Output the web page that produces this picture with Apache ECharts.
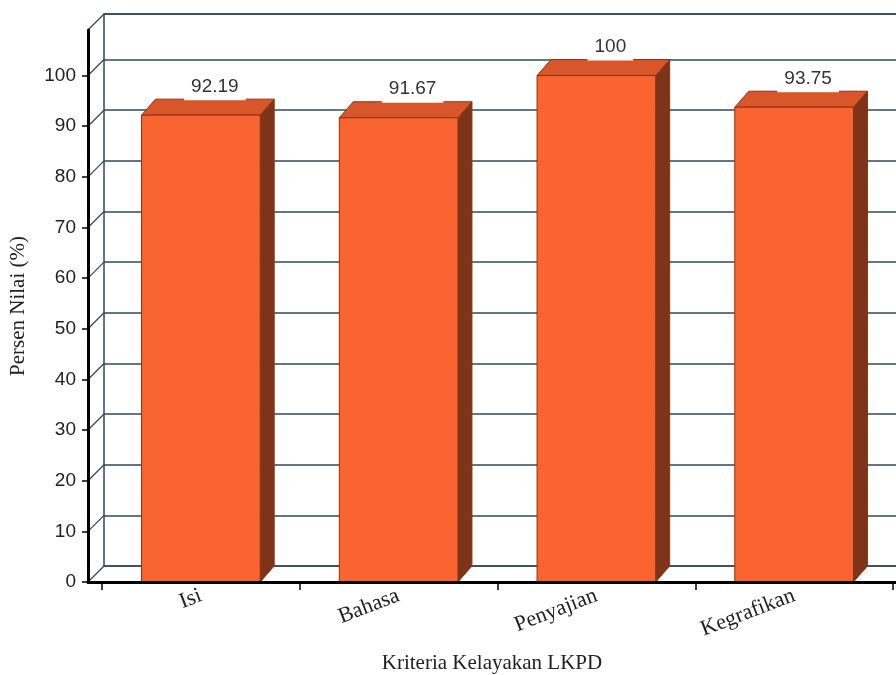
<!DOCTYPE html>
<html>
<head>
<meta charset="utf-8">
<script src="https://cdn.jsdelivr.net/npm/echarts@6/dist/echarts.min.js"></script>
<style>
  html, body { margin: 0; padding: 0; background: #ffffff; }
  #chart { width: 896px; height: 675px; }
</style>
</head>
<body>
<div id="chart"></div>
<script>
// Kelayakan LKPD per kriteria (persen nilai)
const categories = ['Isi', 'Bahasa', 'Penyajian', 'Kegrafikan'];
const values = [92.19, 91.67, 100, 93.75];
const yTicks = [0, 10, 20, 30, 40, 50, 60, 70, 80, 90, 100];
const yMax = 109;

// 3D look: offset of the back wall and depth of the bars (px)
const WALL_DX = 16, WALL_DY = -16;
const BAR_DX = 14, BAR_DY = -16;

const FRONT = '#FA6431';
const TOP = '#D9562A';
const SIDE = '#7E3419';
const EDGE = '#8E3212';
const WALL = '#2E4A5C';

const serif = "'Liberation Serif', 'Times New Roman', serif";
const sans = "'Liberation Sans', Arial, sans-serif";

const chart = echarts.init(document.getElementById('chart'), null, { renderer: 'canvas' });

const hiddenParts = {
  axisTick: { show: false },
  axisLabel: { show: false },
  splitLine: { show: false }
};

const option = {
  backgroundColor: '#ffffff',
  animation: false,
  grid: [
    { left: 88, right: 0, top: 30, bottom: 93, outerBoundsMode: 'none' },   // front frame (axes)
    { left: 102, right: 3, top: 30, bottom: 93, outerBoundsMode: 'none' },  // category bands / bars
    { left: 88 + WALL_DX, right: 0, top: 30 + WALL_DY, bottom: 93 - WALL_DY, outerBoundsMode: 'none' } // back wall
  ],
  xAxis: [
    Object.assign({
      gridIndex: 0, type: 'value', min: 0, max: 1, z: 10,
      axisLine: { show: true, onZero: false, lineStyle: { color: '#000', width: 3 } },
      name: 'Kriteria Kelayakan LKPD', nameLocation: 'middle', nameGap: 71,
      nameTextStyle: { fontFamily: serif, fontSize: 21, color: '#222' }
    }, hiddenParts),
    {
      gridIndex: 1, type: 'category', data: categories, boundaryGap: true, z: 10,
      axisLine: { show: false },
      axisTick: { show: true, length: 8, lineStyle: { color: '#000', width: 1.5 } },
      axisLabel: { rotate: 21, margin: 13, fontFamily: serif, fontSize: 22, color: '#222' },
      splitLine: { show: false }
    },
    Object.assign({
      gridIndex: 2, type: 'value', min: 0, max: 1, position: 'bottom',
      axisLine: { show: true, onZero: false, lineStyle: { color: WALL, width: 1.5 } }
    }, hiddenParts),
    Object.assign({
      gridIndex: 2, type: 'value', min: 0, max: 1, position: 'top',
      axisLine: { show: true, onZero: false, lineStyle: { color: WALL, width: 1.5 } }
    }, hiddenParts)
  ],
  yAxis: [
    {
      gridIndex: 0, type: 'value', min: 0, max: yMax, z: 10,
      axisLine: { show: true, onZero: false, lineStyle: { color: '#000', width: 3 } },
      axisTick: { show: true, customValues: yTicks, length: 6, lineStyle: { color: '#000', width: 1.5 } },
      axisLabel: { customValues: yTicks, margin: 12, fontFamily: sans, fontSize: 19, color: '#222' },
      splitLine: { show: false },
      name: 'Persen Nilai (%)', nameLocation: 'middle', nameGap: 59,
      nameTextStyle: { fontFamily: serif, fontSize: 21, color: '#222' }
    },
    { gridIndex: 1, type: 'value', min: 0, max: yMax, show: false },
    {
      gridIndex: 2, type: 'value', min: 0, max: yMax, interval: 10,
      axisLine: { show: true, onZero: false, lineStyle: { color: WALL, width: 1.5 } },
      axisTick: { show: false },
      axisLabel: { show: false },
      splitLine: { show: true, lineStyle: { color: WALL, width: 1.5 } }
    }
  ],
  series: [
    {
      // diagonal links from the front axis ticks to the back wall
      type: 'custom', xAxisIndex: 0, yAxisIndex: 0, silent: true, clip: false, z: 1,
      data: yTicks.concat([yMax]).map(v => [0, v]),
      renderItem: (params, api) => {
        const p = api.coord([api.value(0), api.value(1)]);
        return {
          type: 'line',
          shape: { x1: p[0], y1: p[1], x2: p[0] + WALL_DX, y2: p[1] + WALL_DY },
          style: { stroke: WALL, lineWidth: 1.3 }
        };
      }
    },
    {
      // 3D bars with value labels
      type: 'custom', xAxisIndex: 1, yAxisIndex: 1, silent: true, clip: false, z: 3,
      data: values.map((v, i) => [i, v]),
      renderItem: (params, api) => {
        const v = api.value(1);
        const top = api.coord([api.value(0), v]);
        const base = api.coord([api.value(0), 0]);
        const w = api.size([1, 0])[0] * 0.6;
        const x0 = top[0] - w / 2, x1 = top[0] + w / 2;
        const yT = top[1], yB = base[1];
        return {
          type: 'group',
          children: [
            {
              type: 'polygon',
              shape: { points: [[x1, yT], [x1 + BAR_DX, yT + BAR_DY], [x1 + BAR_DX, yB + BAR_DY], [x1, yB]] },
              style: { fill: SIDE, stroke: EDGE, lineWidth: 1 }
            },
            {
              type: 'polygon',
              shape: { points: [[x0, yT], [x0 + BAR_DX, yT + BAR_DY], [x1 + BAR_DX, yT + BAR_DY], [x1, yT]] },
              style: { fill: TOP, stroke: EDGE, lineWidth: 1 }
            },
            {
              type: 'rect',
              shape: { x: x0, y: yT, width: w, height: yB - yT },
              style: { fill: FRONT, stroke: EDGE, lineWidth: 1 }
            },
            {
              type: 'text',
              x: top[0] + BAR_DX, y: yT + BAR_DY + 1,
              style: {
                text: String(values[params.dataIndex]),
                align: 'center', verticalAlign: 'bottom',
                font: '19px ' + sans, fill: '#333',
                backgroundColor: '#ffffff', padding: [0, 7, 4, 7]
              }
            }
          ]
        };
      }
    }
  ]
};

chart.setOption(option);
</script>
</body>
</html>
